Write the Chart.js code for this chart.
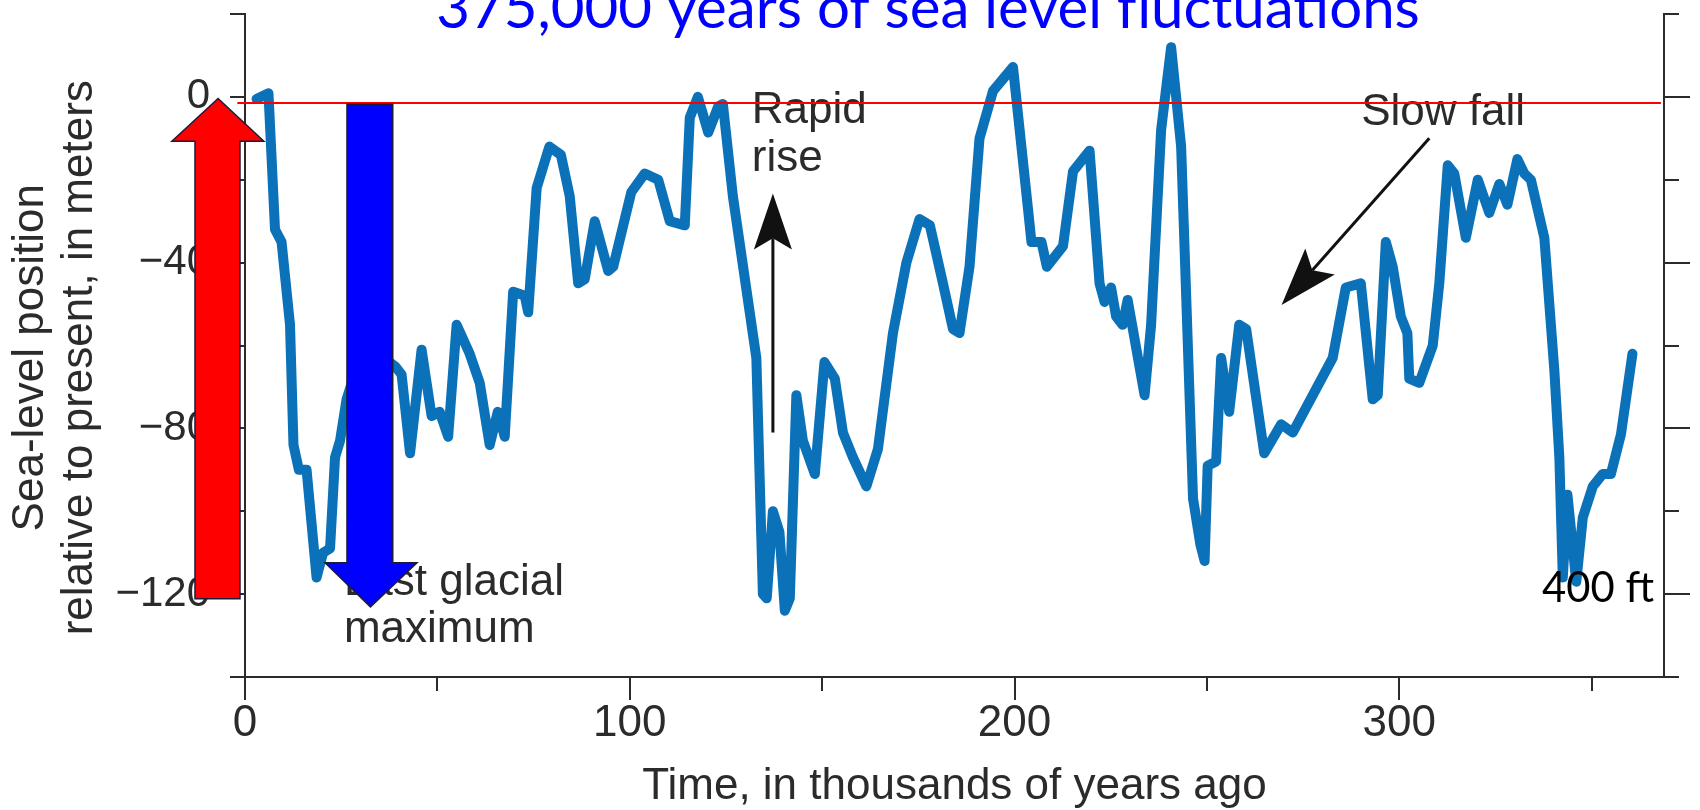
<!DOCTYPE html>
<html>
<head>
<meta charset="utf-8">
<title>375,000 years of sea level fluctuations</title>
<script src="https://cdn.jsdelivr.net/npm/chart.js@4.4.0/dist/chart.umd.min.js"></script>
<style>
  html, body { margin: 0; padding: 0; background: #fff; }
  canvas { display: block; }
</style>
</head>
<body>
<canvas id="grafico-nivel-mar" width="1700" height="810"></canvas>
<script>
// thousands of years ago
const ageKyr = [
  3.0, 6.1, 7.8, 9.5, 11.7, 12.6, 14.0, 16.0, 18.6, 20.3, 22.1, 23.4, 24.7, 26.4,
  29.5, 33.0, 36.0, 39.0, 40.7, 42.9, 45.9, 48.5, 50.6, 52.8, 55.0, 58.4, 61.0,
  63.6, 65.7, 67.5, 69.7, 72.7, 73.6, 75.8, 79.1, 82.1, 84.4, 86.6, 88.3, 90.9,
  94.4, 95.7, 100.4, 103.9, 107.4, 110.4, 114.3, 115.6, 117.7, 120.4, 123.0, 124.2,
  126.8, 132.9, 134.6, 135.6, 137.2, 138.9, 140.3, 141.6, 143.3, 145.0, 148.1,
  150.6, 153.3, 155.4, 158.0, 161.5, 164.5, 168.4, 171.9, 175.3, 178.0, 181.4,
  184.0, 185.7, 188.3, 190.9, 194.4, 199.6, 203.5, 204.4, 207.0, 208.4, 212.6,
  215.2, 219.5, 222.1, 223.4, 225.1, 226.4, 228.1, 229.4, 233.8, 235.5, 238.1,
  240.7, 243.3, 246.4, 248.3, 249.4, 250.2, 252.4, 253.7, 255.8, 258.4, 260.2,
  264.9, 269.3, 272.3, 282.7, 286.1, 290.0, 293.1, 294.4, 296.5, 298.3, 300.4,
  302.1, 302.6, 305.2, 308.7, 310.4, 312.6, 314.3, 317.3, 320.4, 323.4, 326.0,
  328.1, 330.7, 332.5, 334.2, 337.7, 340.3, 341.6, 342.5, 343.7, 346.0, 347.7,
  350.3, 352.9, 355.0, 357.6, 360.6
];
// metres relative to present
const seaLevel = [
  -0.5, 0.9, -32, -35, -55, -84, -90, -90, -116, -110, -109, -87, -83, -73,
  -64, -70, -63, -65, -67, -86, -61, -77, -76, -82, -55, -62, -69,
  -84, -76, -82, -47, -48, -52, -22, -12, -14, -24, -45, -44, -30,
  -42, -41, -23, -18.5, -20, -30, -31, -5, 0, -8.6, -2.3, -1.7,
  -24, -63, -120, -121, -100, -105, -124, -121, -72, -83, -91,
  -64, -68, -81, -87, -94, -85, -57, -40, -29.5, -31, -45,
  -56, -57, -41, -10, 1.4, 7.2, -27, -35, -35, -41, -36,
  -18, -13, -45, -49.5, -46, -53, -55, -49, -72, -55, -8,
  12, -12, -97, -108, -112, -89, -88, -63, -76, -55, -56,
  -86, -79, -81, -63, -46, -45, -73, -72, -35, -41, -53,
  -57, -68, -69, -60, -45, -16.5, -18.5, -34, -20, -28, -21,
  -26, -15, -18.5, -20, -34, -66, -87, -116, -96, -117, -101.5,
  -94, -91, -91, -81.5, -62
];

// red reference line near today's level
const presentAge = [-2, 368];
const presentLevel = [-1.5, -1.5];

const xTickLabels = [0, 100, 200, 300];
const yTickLabels = [0, -40, -80, -120];

const INK = '#2b2b2b';
const HELV = '"Liberation Sans", Arial, sans-serif';

// texts and pointers of the original figure, placed in data units
const notes = [
  { text: 'Rapid', at: [131.7, -6.4] },
  { text: 'rise', at: [131.7, -18.0] },
  { text: 'Slow fall', at: [290.1, -6.9] },
  { text: 'Last glacial', at: [25.7, -120.2] },
  { text: 'maximum', at: [25.7, -131.5] }
];
const pointers = [
  { from: [137.2, -81.0], to: [137.2, -23.3], head: 56 },
  { from: [307.8, -10.0], to: [269.4, -50.2], head: 58 }
];
// the two slide arrows
const blockArrows = [
  { fill: '#ff0000', shaft: [-13.0, -1.3], head: [-19.0, 4.9], tail: -121.1, base: -10.7, tip: [-7.0, -0.4] },
  { fill: '#0000ff', shaft: [26.5, 38.4], head: [20.8, 44.7], tail: -1.8, base: -112.4, tip: [32.6, -123.1] }
];

function toPx(chart, t, v) {
  return [chart.scales.x.getPixelForValue(t), chart.scales.y.getPixelForValue(v)];
}

function drawLineArrow(ctx, chart, a) {
  const [x0, y0] = toPx(chart, a.from[0], a.from[1]);
  const [x1, y1] = toPx(chart, a.to[0], a.to[1]);
  const len = Math.hypot(x1 - x0, y1 - y0);
  const ux = (x1 - x0) / len, uy = (y1 - y0) / len;
  const px = -uy, py = ux;
  const L = a.head, W = a.head * 0.34, N = a.head * 0.2;
  const bx = x1 - ux * L, by = y1 - uy * L;
  ctx.strokeStyle = '#111';
  ctx.lineWidth = 3;
  ctx.beginPath();
  ctx.moveTo(x0, y0);
  ctx.lineTo(bx + ux * N, by + uy * N);
  ctx.stroke();
  ctx.fillStyle = '#111';
  ctx.beginPath();
  ctx.moveTo(x1, y1);
  ctx.lineTo(bx + px * W, by + py * W);
  ctx.lineTo(bx + ux * N, by + uy * N);
  ctx.lineTo(bx - px * W, by - py * W);
  ctx.closePath();
  ctx.fill();
}

function drawBlockArrow(ctx, chart, a) {
  const pts = [
    [a.shaft[0], a.tail], [a.shaft[0], a.base], [a.head[0], a.base],
    [a.tip[0], a.tip[1]], [a.head[1], a.base], [a.shaft[1], a.base], [a.shaft[1], a.tail]
  ].map(p => toPx(chart, p[0], p[1]));
  ctx.beginPath();
  pts.forEach((p, i) => i ? ctx.lineTo(p[0], p[1]) : ctx.moveTo(p[0], p[1]));
  ctx.closePath();
  ctx.fillStyle = a.fill;
  ctx.fill();
  ctx.strokeStyle = '#1c1c3a';
  ctx.lineWidth = 1.5;
  ctx.stroke();
}

function fitFont(ctx, text, family, width) {
  ctx.font = '100px ' + family;
  return 100 * width / ctx.measureText(text).width;
}

const anotacoes = {
  id: 'anotacoes',
  beforeDatasetsDraw(chart) {
    const ctx = chart.ctx;
    ctx.save();
    ctx.fillStyle = INK;
    ctx.font = '44px ' + HELV;
    ctx.textAlign = 'left';
    ctx.textBaseline = 'alphabetic';
    notes.forEach(n => {
      const [x, y] = toPx(chart, n.at[0], n.at[1]);
      ctx.fillText(n.text, x, y);
    });
    pointers.forEach(p => drawLineArrow(ctx, chart, p));
    ctx.restore();
  },
  afterDraw(chart) {
    const ctx = chart.ctx;
    ctx.save();
    blockArrows.forEach(a => drawBlockArrow(ctx, chart, a));

    ctx.textAlign = 'left';
    ctx.textBaseline = 'alphabetic';
    const ftSize = fitFont(ctx, '400 ft', 'Lato', 112);
    ctx.font = ftSize + 'px Lato';
    ctx.fillStyle = '#000';
    const [fx, fy] = toPx(chart, 337.1, -121.9);
    ctx.fillText('400 ft', fx, fy);

    const title = '375,000 years of sea level fluctuations';
    const tSize = fitFont(ctx, title, 'Lato', 984);
    ctx.font = tSize + 'px Lato';
    ctx.fillStyle = '#0000ff';
    ctx.textAlign = 'center';
    ctx.fillText(title, 928, 28);
    ctx.restore();
  }
};

// axis line + outward tick marks, nothing on the plot area
const eixo = (len, keep) => ({
  display: true,
  drawOnChartArea: false,
  drawTicks: true,
  tickLength: len,
  tickWidth: 2,
  lineWidth: 2,
  color: INK,
  tickColor: c => (!keep || keep(c.tick.value)) ? INK : 'rgba(0,0,0,0)'
});
const borda = { display: true, color: INK, width: 2 };
const zeroHeight = s => { s.height = 0; s.paddingLeft = 0; s.paddingRight = 0; };
const zeroWidth = s => { s.width = 0; s.paddingTop = 0; s.paddingBottom = 0; };

new Chart(document.getElementById('grafico-nivel-mar').getContext('2d'), {
  type: 'line',
  data: {
    datasets: [
      {
        label: 'Present level',
        data: presentAge.map((t, i) => ({ x: t, y: presentLevel[i] })),
        xAxisID: 'x',
        yAxisID: 'y',
        borderColor: '#ff0000',
        borderWidth: 2,
        pointRadius: 0,
        clip: false
      },
      {
        label: 'Sea level',
        data: ageKyr.map((t, i) => ({ x: t, y: seaLevel[i] })),
        xAxisID: 'x',
        yAxisID: 'y',
        borderColor: '#0b71b8',
        borderWidth: 10,
        borderJoinStyle: 'round',
        borderCapStyle: 'round',
        pointRadius: 0,
        tension: 0
      }
    ]
  },
  options: {
    responsive: false,
    animation: false,
    layout: { padding: { top: 14, left: 0, right: 0, bottom: 0 } },
    plugins: { legend: { display: false }, tooltip: { enabled: false } },
    scales: {
      x: {
        type: 'linear',
        axis: 'x',
        position: 'bottom',
        weight: 1,
        min: 0,
        max: 368.8,
        grid: eixo(23, v => v % 100 === 0),
        border: borda,
        ticks: {
          stepSize: 50,
          includeBounds: false,
          padding: -3,
          maxRotation: 0,
          autoSkip: false,
          color: INK,
          font: { family: HELV, size: 44 },
          callback: v => xTickLabels.includes(v) ? String(v) : ''
        },
        title: {
          display: true,
          text: 'Time, in thousands of years ago',
          color: INK,
          font: { family: HELV, size: 44, lineHeight: 1.0 },
          padding: { top: 0, bottom: 1 }
        },
        afterFit: s => { s.height = 133; s.paddingLeft = 0; s.paddingRight = 0; }
      },
      xMinor: {
        type: 'linear',
        axis: 'x',
        position: 'bottom',
        weight: 0,
        display: true,
        min: 0,
        max: 368.8,
        grid: eixo(14),
        border: borda,
        ticks: { stepSize: 50, includeBounds: false, display: false },
        afterFit: zeroHeight
      },
      y: {
        axis: 'y',
        position: 'left',
        min: -140,
        max: 20,
        grid: eixo(15),
        border: borda,
        ticks: {
          stepSize: 20,
          padding: 20,
          autoSkip: false,
          color: INK,
          font: { family: HELV, size: 42 },
          callback: v => yTickLabels.includes(v) ? (v < 0 ? '\u2212' + (-v) : String(v)) : ''
        },
        title: {
          display: true,
          text: ['Sea-level position  ', 'relative to present, in meters  '],
          color: INK,
          font: { family: HELV, size: 44, lineHeight: 1.12 },
          padding: { top: 6, bottom: 0 }
        },
        afterFit: s => { s.width = 245; s.paddingTop = 0; s.paddingBottom = 0; }
      },
      yRight: {
        axis: 'y',
        position: 'right',
        weight: 1,
        display: true,
        min: -140,
        max: 20,
        grid: eixo(26, v => v % 40 === 0),
        border: borda,
        ticks: { stepSize: 20, display: false },
        afterFit: s => { s.width = 36; s.paddingTop = 0; s.paddingBottom = 0; }
      },
      yRightMinor: {
        axis: 'y',
        position: 'right',
        weight: 0,
        display: true,
        min: -140,
        max: 20,
        grid: eixo(15),
        border: borda,
        ticks: { stepSize: 20, display: false },
        afterFit: zeroWidth
      }
    }
  },
  plugins: [anotacoes]
});
</script>
</body>
</html>
